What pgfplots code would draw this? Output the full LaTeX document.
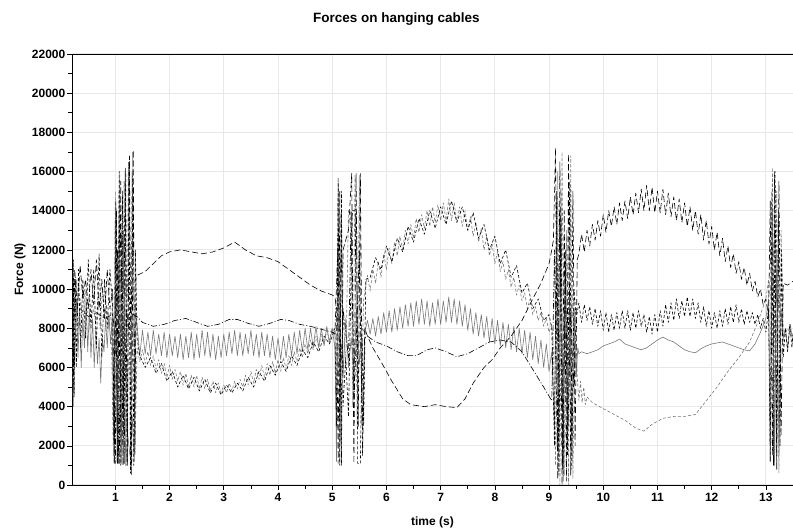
\documentclass[border=0pt]{standalone}
\usepackage{fontspec}
\setmainfont{Liberation Sans}
\usepackage{pgfplots}
\pgfplotsset{compat=1.18}
\definecolor{gridgray}{RGB}{232,232,232}
\definecolor{cablegray}{RGB}{120,120,120}
\begin{document}
\begin{tikzpicture}
\useasboundingbox (-72bp,-45bp) rectangle (721bp,485bp);
\begin{axis}[
  at={(0,0)}, anchor=south west,
  width=721bp, height=431bp, scale only axis,
  xmin=0.2, xmax=13.5, ymin=0, ymax=22000,
  xtick={1,...,13}, minor x tick num=1,
  ytick={0,2000,...,22000}, minor y tick num=1,
  scaled y ticks=false,
  xtick pos=left, ytick pos=left, tick align=outside,
  major tick length=5bp, minor tick length=4bp,
  grid=major, major grid style={gridgray, line width=1bp},
  axis line style={black, line width=0.8bp},
  tick style={black, line width=0.6bp},
  /pgf/number format/assume math mode=true,
  /pgf/number format/1000 sep={},
  ticklabel style={font=\fontsize{12bp}{14bp}\selectfont\bfseries},
  yticklabel style={inner sep=1.5bp},
  title={Forces on hanging cables},
  title style={font=\fontsize{13.5bp}{16bp}\selectfont\bfseries, at={(axis description cs:0.45,1.067)}, anchor=center, yshift=0pt},
  xlabel={time (s)}, ylabel={Force (N)},
  label style={font=\fontsize{12bp}{14bp}\selectfont\bfseries},
  xlabel style={at={(axis description cs:0.5,-0.086)}, anchor=center},
  ylabel style={at={(axis description cs:-0.072,0.5)}, anchor=center},
  every axis plot/.append style={line width=0.6bp, line join=round},
]

% cable C: grey, solid, noisy
\addplot[cablegray] coordinates {
(0.20,4500) (0.22,9000) (0.25,6000) (0.28,9500) (0.31,6500) (0.34,9000) (0.37,6000) (0.40,8500) (0.43,7000) (0.46,9500) (0.49,6800) (0.52,9000) (0.55,6500) (0.58,8500) (0.61,6000) (0.64,8000) (0.67,6200) (0.70,7500) (0.73,5200) (0.76,7500) (0.79,6800) (0.82,8500) (0.85,7000) (0.88,8800) (0.91,7200) (0.94,8500)
(0.97,1500) (1.00,14000) (1.03,1200) (1.07,14500) (1.11,1100) (1.15,13000) (1.19,1000) (1.23,2500) (1.27,1500) (1.31,3500) (1.35,1200) (1.38,8500)
(1.40,8200) (1.45,6600) (1.50,7900) (1.55,6700) (1.60,7800) (1.65,6600) (1.70,7900) (1.75,6700) (1.80,7700) (1.85,6600) (1.90,7800) (1.95,6500) (2.00,7700) (2.05,6600) (2.10,7600) (2.15,6500) (2.20,7700) (2.25,6400) (2.30,7600) (2.35,6500) (2.40,7800) (2.45,6400) (2.50,7700) (2.55,6500) (2.60,7900) (2.65,6600) (2.70,7800) (2.75,6500) (2.80,7700) (2.85,6400) (2.90,7600) (2.95,6500) (3.00,7700) (3.05,6600) (3.10,7800) (3.15,6700) (3.20,7900) (3.25,6600) (3.30,7800) (3.35,6600) (3.40,7700) (3.45,6700) (3.50,7900) (3.55,6600) (3.60,7700) (3.65,6500) (3.70,7800) (3.75,6600) (3.80,7700) (3.85,6500) (3.90,7600) (3.95,6400) (4.00,7500) (4.05,6400) (4.10,7600) (4.15,6500) (4.20,7700) (4.25,6600) (4.30,7800) (4.35,6700) (4.40,7900) (4.45,6800) (4.50,8000) (4.55,6900) (4.60,8000) (4.65,7000) (4.70,8100) (4.75,7000) (4.80,8000) (4.85,7100) (4.90,8100) (4.95,7200) (5.00,8000) (5.05,7000)
(5.08,1200) (5.11,15500) (5.14,1100) (5.17,14000) (5.20,5500) (5.25,8500) (5.30,6000) (5.35,7500) (5.40,5800) (5.45,9000) (5.50,6200) (5.55,8000) (5.60,7800)
(5.65,8400) (5.70,7700) (5.75,8500) (5.80,7600) (5.85,8600) (5.90,7700) (5.95,8800) (6.00,7800) (6.05,8900) (6.10,7800) (6.15,9000) (6.20,7900) (6.25,9100) (6.30,8000) (6.35,9200) (6.40,8100) (6.45,9300) (6.50,8100) (6.55,9400) (6.60,8200) (6.65,9500) (6.70,8200) (6.75,9400) (6.80,8100) (6.85,9300) (6.90,8200) (6.95,9500) (7.00,8200) (7.05,9400) (7.10,8300) (7.15,9600) (7.20,8300) (7.25,9500) (7.30,8200) (7.35,9400) (7.40,8100) (7.45,9200) (7.50,7900) (7.55,9000) (7.60,7700) (7.65,8800) (7.70,7600) (7.75,8700) (7.80,7500) (7.85,8600) (7.90,7300) (7.95,8500) (8.00,7200) (8.05,8400) (8.10,7100) (8.15,8300) (8.20,7000) (8.25,8200) (8.30,6900) (8.35,8100) (8.40,6800) (8.45,8000) (8.50,6700) (8.55,7900) (8.60,6500) (8.65,7800) (8.70,6400) (8.75,7600) (8.80,6200) (8.85,7400) (8.90,6000) (8.95,7200) (9.00,5800) (9.05,6800)
(9.10,3000) (9.14,14000) (9.18,1500) (9.22,15000) (9.26,1000) (9.30,12000) (9.34,2000) (9.38,10000) (9.42,1500) (9.46,9000) (9.50,5500) (9.53,7000)
(9.55,6700) (9.60,6800) (9.70,6700) (9.80,6800) (9.90,6900) (10.00,7100) (10.10,7200) (10.20,7300) (10.30,7450) (10.40,7200) (10.50,7100) (10.60,7000) (10.70,6900) (10.80,7000) (10.90,7200) (11.00,7400) (11.10,7550) (11.20,7400) (11.30,7300) (11.40,7100) (11.50,6900) (11.60,6800) (11.70,6750) (11.80,6950) (11.90,7100) (12.00,7200) (12.10,7250) (12.20,7300) (12.30,7200) (12.40,7100) (12.50,7000) (12.60,6900) (12.70,6850) (12.80,7200) (12.90,7800) (13.00,8500) (13.05,9500)
(13.08,1200) (13.12,14000) (13.16,1000) (13.20,12000) (13.24,1500) (13.28,9000) (13.32,7500) (13.36,8000) (13.40,7000) (13.45,8200) (13.50,7200)
};

% cable D: grey, short dashes
\addplot[cablegray, dash pattern=on 3bp off 2bp] coordinates {
(0.20,11000) (0.24,8500) (0.28,10500) (0.32,8000) (0.36,9500) (0.40,8200) (0.44,10000) (0.48,8800) (0.52,9500) (0.56,8500) (0.60,9000) (0.64,8200) (0.68,9500) (0.72,8000) (0.76,10000) (0.80,8500) (0.84,9200) (0.88,8000) (0.92,9000)
(0.96,2000) (1.00,15000) (1.04,1500) (1.08,16000) (1.12,1200) (1.16,15500) (1.20,1000) (1.24,16500) (1.28,800) (1.32,17000) (1.36,1500) (1.40,7000)
(1.45,6300) (1.50,6900) (1.55,6200) (1.60,6800) (1.65,6100) (1.70,6600) (1.75,5900) (1.80,6400) (1.85,5700) (1.90,6200) (1.95,5500) (2.00,6100) (2.05,5400) (2.10,5900) (2.15,5300) (2.20,5800) (2.25,5100) (2.30,5700) (2.35,5000) (2.40,5600) (2.45,5000) (2.50,5600) (2.55,4900) (2.60,5500) (2.65,4900) (2.70,5400) (2.75,4800) (2.80,5300) (2.85,4700) (2.90,5200) (2.95,4700) (3.00,5100) (3.05,4700) (3.10,5200) (3.15,4800) (3.20,5300) (3.25,4900) (3.30,5400) (3.35,5000) (3.40,5600) (3.45,5100) (3.50,5800) (3.55,5200) (3.60,5900) (3.65,5400) (3.70,6100) (3.75,5500) (3.80,6200) (3.85,5600) (3.90,6300) (3.95,5700) (4.00,6400) (4.05,5800) (4.10,6500) (4.15,5900) (4.20,6600) (4.25,6100) (4.30,6800) (4.35,6300) (4.40,7000) (4.45,6500) (4.50,7200) (4.55,6700) (4.60,7400) (4.65,6900) (4.70,7600) (4.75,7000) (4.80,7700) (4.85,7200) (4.90,7900) (4.95,7400) (5.00,8000) (5.05,7800)
(5.08,4000) (5.12,14000) (5.16,2000) (5.20,9000) (5.25,6000) (5.30,14000) (5.34,14000) (5.38,4000) (5.42,15800) (5.46,3000) (5.50,15800) (5.54,5000) (5.58,9500)
(5.65,10700) (5.70,9900) (5.75,11000) (5.80,10300) (5.85,11400) (5.90,10600) (5.95,11800) (6.00,11000) (6.05,12100) (6.10,11300) (6.15,12400) (6.20,11700) (6.25,12700) (6.30,12000) (6.35,13000) (6.40,12300) (6.45,13300) (6.50,12600) (6.55,13600) (6.60,12900) (6.65,13800) (6.70,13100) (6.75,14000) (6.80,13200) (6.85,14200) (6.90,13400) (6.95,14300) (7.00,13500) (7.05,14400) (7.10,13500) (7.15,14600) (7.20,13500) (7.25,14400) (7.30,13400) (7.35,14200) (7.40,13200) (7.45,14000) (7.50,13000) (7.55,13700) (7.60,12700) (7.65,13400) (7.70,12400) (7.75,13100) (7.80,12000) (7.85,12700) (7.90,11700) (7.95,12300) (8.00,11300) (8.05,11900) (8.10,10900) (8.15,11400) (8.20,10500) (8.25,11000) (8.30,10100) (8.35,10600) (8.40,9700) (8.45,10200) (8.50,9400) (8.55,9800) (8.60,9000) (8.65,9500) (8.70,8700) (8.75,9100) (8.80,8400) (8.85,8800) (8.90,8100) (8.95,8500) (9.00,7800) (9.05,8200)
(9.08,7000) (9.12,1000) (9.16,16000) (9.20,0) (9.24,17000) (9.28,500) (9.32,13000) (9.36,0) (9.40,16800) (9.44,300) (9.48,9000)
(9.52,5500) (9.55,4300) (9.58,5300) (9.61,4200) (9.64,5000) (9.67,4100) (9.70,4500) (9.80,4200) (10.00,3900) (10.20,3600) (10.40,3300) (10.60,2900) (10.75,2750) (10.90,3100) (11.10,3400) (11.30,3500) (11.50,3500) (11.70,3600) (11.90,4300) (12.10,5000) (12.30,5800) (12.50,6500) (12.70,7300) (12.85,8300) (13.00,9500) (13.05,10500)
(13.08,2000) (13.12,16200) (13.16,1000) (13.20,15000) (13.24,600) (13.28,13000) (13.32,7500) (13.40,8000) (13.50,7500)
};

% cable B: black, dash-dot
\addplot[black, dash pattern=on 6bp off 2bp on 1bp off 2bp] coordinates {
(0.20,8500) (0.35,9000) (0.50,8600) (0.65,8800) (0.80,8500) (0.95,8700)
(0.98,8000) (1.00,1100) (1.04,12000) (1.08,1100) (1.12,13000) (1.16,1100) (1.20,9000) (1.25,8000) (1.30,8800) (1.38,8600)
(1.40,8600) (1.50,8300) (1.70,8100) (1.90,8200) (2.10,8400) (2.30,8500) (2.50,8300) (2.70,8100) (2.90,8200) (3.10,8450) (3.25,8450) (3.45,8250) (3.65,8100) (3.85,8250) (4.05,8450) (4.20,8400) (4.40,8200) (4.60,8100) (4.80,7950) (5.00,7800) (5.05,7700)
(5.10,12000) (5.15,5000) (5.20,9000) (5.30,6500) (5.35,14000) (5.40,4000) (5.50,12000) (5.55,3000) (5.60,7500)
(5.65,7600) (5.80,7300) (6.00,7100) (6.20,6800) (6.40,6600) (6.55,6600) (6.75,6900) (6.90,7000) (7.10,6800) (7.30,6550) (7.50,6700) (7.70,7000) (7.90,7300) (8.10,7400) (8.30,7300) (8.50,6800) (8.70,5900) (8.90,5000) (9.05,4300)
(9.10,12000) (9.15,2000) (9.20,14000) (9.25,800) (9.30,11000) (9.35,3000) (9.40,9000) (9.45,5000) (9.50,8500)
};

% cable A: black, long dashes
\addplot[black, dash pattern=on 6bp off 3bp] coordinates {
(0.20,12500) (0.22,4000) (0.25,11000) (0.30,9000) (0.35,11200) (0.40,9500) (0.45,10500) (0.50,9000) (0.55,11000) (0.60,9200) (0.65,11500) (0.70,9000) (0.75,10500) (0.80,8500) (0.85,11000) (0.90,9000) (0.95,10000)
(0.98,1100) (1.02,14000) (1.06,1100) (1.10,15500) (1.14,1000) (1.18,16000) (1.22,1100) (1.26,16800) (1.30,500) (1.33,17100) (1.36,1500) (1.38,10700)
(1.40,10700) (1.55,10900) (1.70,11300) (1.85,11700) (2.00,11900) (2.20,12000) (2.40,11900) (2.60,11800) (2.80,11900) (3.00,12100) (3.20,12400) (3.40,12000) (3.60,11700) (3.80,11600) (4.00,11400) (4.20,11000) (4.40,10600) (4.60,10200) (4.80,9900) (5.00,9700) (5.05,9600)
(5.08,9000) (5.11,1100) (5.14,15000) (5.17,1000) (5.20,12000) (5.30,13000) (5.36,15900) (5.40,1100) (5.44,15900) (5.48,3000) (5.52,15900) (5.56,1500) (5.60,8000)
(5.65,7600) (5.75,7000) (5.90,6300) (6.10,5300) (6.30,4400) (6.45,4100) (6.70,4000) (6.90,4100) (7.10,4000) (7.30,3950) (7.45,4400) (7.60,5200) (7.80,6000) (7.95,6400) (8.10,7000) (8.30,7600) (8.50,8400) (8.70,9500) (8.85,10300) (9.00,11300) (9.05,12000)
(9.08,12500) (9.12,17200) (9.16,300) (9.20,16500) (9.24,0) (9.28,14000) (9.32,200) (9.36,16900) (9.40,500) (9.44,15000) (9.48,2000) (9.52,11500)
(9.55,11800) (9.60,12800) (9.65,11900) (9.70,13000) (9.75,12200) (9.80,13300) (9.85,12500) (9.90,13500) (9.95,12700) (10.00,13800) (10.05,12900) (10.10,14000) (10.15,13200) (10.20,14200) (10.25,13300) (10.30,14400) (10.35,13500) (10.40,14500) (10.45,13600) (10.50,14700) (10.55,13800) (10.60,14900) (10.65,13900) (10.70,15100) (10.75,14000) (10.80,15300) (10.85,14000) (10.90,15200) (10.95,13900) (11.00,15000) (11.05,13900) (11.10,15100) (11.15,13800) (11.20,14900) (11.25,13700) (11.30,14700) (11.35,13500) (11.40,14600) (11.45,13400) (11.50,14400) (11.55,13200) (11.60,14200) (11.65,13000) (11.70,14000) (11.75,12800) (11.80,13800) (11.85,12500) (11.90,13500) (11.95,12300) (12.00,13200) (12.05,12000) (12.10,12900) (12.15,11700) (12.20,12600) (12.25,11400) (12.30,12200) (12.35,11100) (12.40,11800) (12.45,10800) (12.50,11400) (12.55,10500) (12.60,11100) (12.65,10200) (12.70,10800) (12.75,9900) (12.80,10400) (12.85,9600) (12.90,10000) (12.95,9200) (13.00,9500) (13.05,8500)
(13.08,14500) (13.12,1500) (13.16,16000) (13.20,800) (13.24,15500) (13.28,2500) (13.32,10300) (13.40,10200) (13.50,10400)
};

% cable E: black, short dashes, noisy
\addplot[black, dash pattern=on 3bp off 2bp] coordinates {
(0.20,4000) (0.21,12500) (0.22,5000) (0.23,11500) (0.24,4500) (0.26,10500) (0.28,6000) (0.32,11000) (0.36,7000) (0.40,10500) (0.45,7500) (0.50,11500) (0.55,8000) (0.60,11000) (0.65,7000) (0.70,11800) (0.75,6500) (0.80,10500) (0.85,8000) (0.90,11000) (0.95,9000)
(0.98,1100) (1.01,14500) (1.04,1100) (1.07,16000) (1.10,1000) (1.13,15000) (1.16,1100) (1.19,16200) (1.22,1000) (1.25,16500) (1.28,600) (1.31,16000) (1.34,1000) (1.37,12000) (1.40,7500)
(1.45,6600) (1.55,6000) (1.65,6500) (1.75,5700) (1.85,6200) (1.95,5300) (2.05,5800) (2.15,5000) (2.25,5600) (2.35,4900) (2.45,5500) (2.55,4800) (2.65,5400) (2.75,4700) (2.85,5200) (2.95,4600) (3.05,5100) (3.15,4700) (3.25,5200) (3.35,4800) (3.45,5500) (3.55,5000) (3.65,5800) (3.75,5300) (3.85,6100) (3.95,5600) (4.05,6300) (4.15,5800) (4.25,6600) (4.35,6100) (4.45,6900) (4.55,6500) (4.65,7300) (4.75,6800) (4.85,7600) (4.95,7200) (5.05,8000)
(5.08,3000) (5.11,15700) (5.14,1000) (5.17,15000) (5.20,4000) (5.25,6500) (5.30,3500) (5.35,11000) (5.37,14000) (5.45,14000) (5.47,1100) (5.52,1100) (5.55,7500) (5.58,3000) (5.62,10500)
(5.70,10600) (5.80,11600) (5.90,11000) (6.00,12200) (6.10,11400) (6.20,12600) (6.30,11900) (6.40,13200) (6.50,12400) (6.60,13600) (6.70,12800) (6.80,14000) (6.90,13100) (7.00,14200) (7.10,13300) (7.20,14500) (7.30,13400) (7.40,14200) (7.50,13000) (7.60,13900) (7.70,12600) (7.80,13300) (7.90,12000) (8.00,12700) (8.10,11300) (8.20,12000) (8.30,10600) (8.40,11200) (8.50,9800) (8.60,10300) (8.70,9000) (8.80,9500) (8.90,8400) (9.00,8700) (9.05,8000)
(9.10,2000) (9.14,15000) (9.18,500) (9.22,13500) (9.26,200) (9.30,12000) (9.34,1500) (9.38,15500) (9.42,800) (9.46,10000) (9.50,8500)
(9.55,9300) (9.60,8300) (9.65,9200) (9.70,8400) (9.75,9100) (9.80,8200) (9.85,9000) (9.90,8100) (9.95,8900) (10.00,7900) (10.05,8800) (10.10,7800) (10.15,8700) (10.20,7900) (10.25,8800) (10.30,8000) (10.35,8900) (10.40,8000) (10.45,8900) (10.50,7900) (10.55,8800) (10.60,8000) (10.65,8900) (10.70,8100) (10.75,8700) (10.80,7800) (10.85,8600) (10.90,7700) (10.95,8700) (11.00,7800) (11.05,8900) (11.10,8100) (11.15,9200) (11.20,8300) (11.25,9300) (11.30,8400) (11.35,9500) (11.40,8500) (11.45,9400) (11.50,8600) (11.55,9600) (11.60,8600) (11.65,9500) (11.70,8500) (11.75,9300) (11.80,8300) (11.85,9100) (11.90,8100) (11.95,8900) (12.00,8000) (12.05,8800) (12.10,8000) (12.15,8900) (12.20,8100) (12.25,9000) (12.30,8200) (12.35,9100) (12.40,8300) (12.45,9200) (12.50,8300) (12.55,9000) (12.60,8200) (12.65,8900) (12.70,8300) (12.75,8800) (12.80,8200) (12.85,8700) (12.90,8000) (12.95,8500) (13.00,7800) (13.05,9000)
(13.08,1200) (13.11,15000) (13.14,1000) (13.17,16000) (13.20,1500) (13.23,14000) (13.26,2000) (13.29,12000) (13.32,6500) (13.36,8000) (13.40,6800) (13.44,8200) (13.48,7000) (13.50,7800)
};

\end{axis}
\end{tikzpicture}
\end{document}
